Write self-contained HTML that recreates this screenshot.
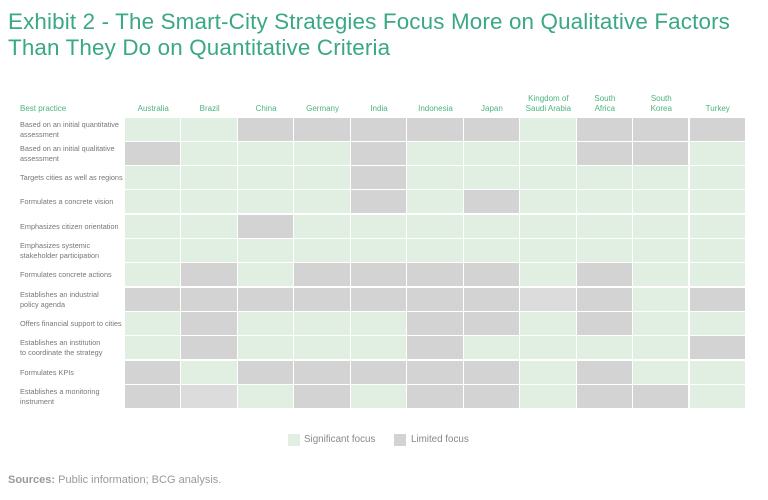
<!DOCTYPE html>
<html><head><meta charset="utf-8"><style>
body{margin:0;width:768px;height:500px;background:#fff;font-family:"Liberation Sans",sans-serif;position:relative;overflow:hidden}
.t{position:absolute;left:8px;top:9px;color:#3aa886;font-size:22.4px;line-height:26px;letter-spacing:0.15px}
.h{position:absolute;color:#4cb47f;font-size:8px;line-height:10px;text-align:center}
.r{position:absolute;left:20px;color:#777;font-size:7.3px;line-height:10px}
.c{position:absolute;height:23px}
.g{background:#e0efe2}.l{background:#d3d3d3}.ll{background:#dcdcdc}
</style></head><body>
<div class="t">Exhibit 2 - The Smart-City Strategies Focus More on Qualitative Factors<br>Than They Do on Quantitative Criteria</div>
<div class="h" style="left:20px;top:104px;text-align:left">Best practice</div>
<div id="g"></div>
<div style="position:absolute;left:288px;top:434px;width:12px;height:12px;background:#e0efe2"></div>
<div style="position:absolute;left:304px;top:434px;font-size:9.8px;color:#888">Significant focus</div>
<div style="position:absolute;left:394px;top:434px;width:12px;height:12px;background:#d3d3d3"></div>
<div style="position:absolute;left:411px;top:434px;font-size:9.8px;color:#888">Limited focus</div>
<div style="position:absolute;left:8px;top:474px;font-size:11px;color:#999"><b>Sources:</b> Public information; BCG analysis.</div>
<script>
var cols=["Australia","Brazil","China","Germany","India","Indonesia","Japan","Kingdom of<br>Saudi Arabia","South<br>Africa","South<br>Korea","Turkey"];
var rows=["Based on an initial quantitative<br>assessment","Based on an initial qualitative<br>assessment","Targets cities as well as regions","Formulates a concrete vision","Emphasizes citizen orientation","Emphasizes systemic<br>stakeholder participation","Formulates concrete actions","Establishes an industrial<br>policy agenda","Offers financial support to cities","Establishes an institution<br>to coordinate the strategy","Formulates KPIs","Establishes a monitoring<br>instrument"];
var m=["GGLLLLLGLLL","LGGGLGGGLLG","GGGGLGGGGGG","GGGGLGLGGGG","GGLGGGGGGGG","GGGGGGGGGGG","GLGLLLLGLGG","LLLLLLLMLGL","GLGGGLLGLGG","GLGGGLGGGGL","LGLLLLLGLGG","LMGLGLLGLLG"];
var h="",cw=56.45,x0=125,y0=117.5,rh=24.3;
cols.forEach(function(c,i){var two=c.indexOf("<br>")>0;h+='<div class="h" style="left:'+(x0+i*cw)+'px;width:'+cw+'px;top:'+(two?94:104)+'px">'+c+'</div>';});
rows.forEach(function(r,j){var two=r.indexOf("<br>")>0;h+='<div class="r" style="top:'+(y0+j*rh+(two?2:7))+'px">'+r+'</div>';
for(var i=0;i<11;i++){var k=m[j][i];h+='<div class="c '+(k=="G"?"g":k=="L"?"l":"ll")+'" style="left:'+(x0+i*cw)+'px;top:'+(y0+j*rh)+'px;width:'+(cw-1)+'px"></div>';}});
document.getElementById("g").innerHTML=h;
</script>
</body></html>
